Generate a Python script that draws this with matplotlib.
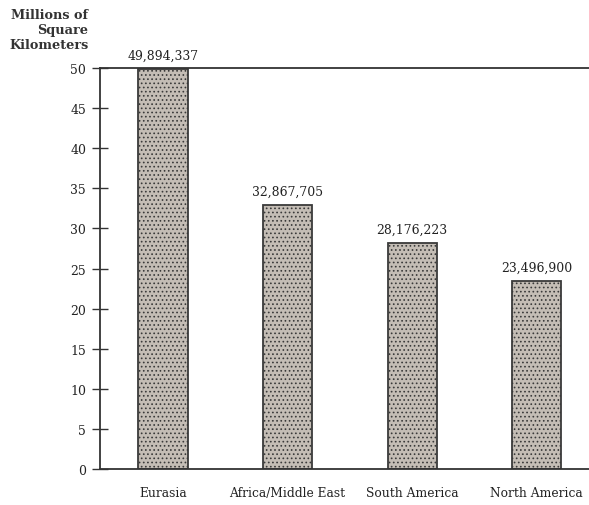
import matplotlib.pyplot as plt

regions = ["Eurasia", "Africa/Middle East", "South America", "North America"]
area_km2 = [49894337, 32867705, 28176223, 23496900]
area_labels = ["49,894,337", "32,867,705", "28,176,223", "23,496,900"]
y_ticks = [0, 5, 10, 15, 20, 25, 30, 35, 40, 45, 50]

plt.rcParams['font.family'] = ['DejaVu Serif']
plt.rcParams['hatch.color'] = '#8a837b'
plt.rcParams['hatch.linewidth'] = 0.7

fig = plt.figure(figsize=(5.89, 5.06), dpi=100)
ax = fig.add_axes([0.1698, 0.0711, 0.8302, 0.7925])

x = list(range(len(regions)))
vals = [v / 1e6 for v in area_km2]
ax.bar(x, vals, width=0.394, color='#c4bdb5', edgecolor='#3a3a3a',
       linewidth=1.3, hatch='....')

for xi, v, lab in zip(x, vals, area_labels):
    ax.text(xi, v + 0.9, lab, ha='center', va='bottom', fontsize=8.9, color='#222222')

ax.set_xlim(-0.506, 3.42)
ax.set_ylim(0, 50)
ax.set_yticks(y_ticks)
ax.set_yticklabels([str(t) for t in y_ticks], fontsize=8.9, color='#222222')
ax.set_xticks(x)
ax.set_xticklabels(regions, fontsize=8.8, color='#222222')
ax.tick_params(axis='y', direction='inout', length=12, width=1, color='#333333', pad=4)
ax.tick_params(axis='x', length=0, pad=12)

for side in ['left', 'top', 'bottom']:
    ax.spines[side].set_color('#333333')
    ax.spines[side].set_linewidth(1.3)
ax.spines['right'].set_visible(False)

fig.text(0.150, 0.982, "Millions of\nSquare\nKilometers", ha='right', va='top',
         fontsize=9.3, fontweight='semibold', color='#333333', linespacing=1.2)

fig.savefig("out.png", dpi=100)
